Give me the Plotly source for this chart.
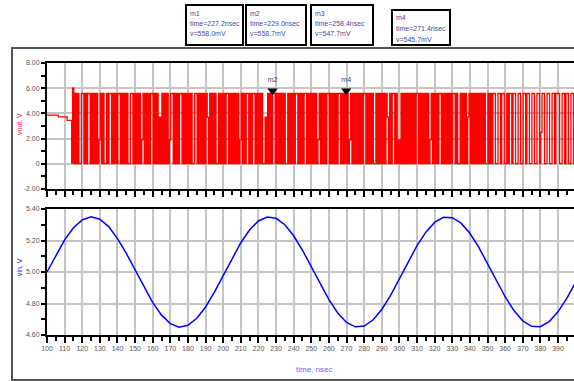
import plotly.graph_objects as go

# ---------------- data ----------------
# top panel (red): slow start, then dense switching waveform
vout_pre_t = [100.0, 106.4, 111.4, 114.0, 114.5]
vout_pre_v = [3.86, 3.72, 3.45, 0.05, 6.00]
vout_step = 10.0 / 14.0          # nsec per code character
vout_codes = [
    "09090099090990", "90909039090090", "99090909909090", "90099090909039",
    "09090990909060", "90909039909090", "99090909090099", "09090909609090",
    "90090909099090", "90909039090990", "90990909090060", "90909909090909",
    "00909090990909", "09909090909039", "09090990909090", "99090909039090",
    "90909099090909", "00909090909609", "09909030909090", "90909099090909",
    "09039090909909", "09090909909009", "09090690909090", "90909009090990",
    "09909900909909", "90099009909900", "99009904990099", "00990999009909",
    "90099009990099",
]
code_levels = {"0": 0.02, "3": 1.9, "4": 2.5, "5": 3.1, "6": 3.7, "9": 5.58}

# bottom panel (blue)
vin_t = list(range(100, 405, 5))
vin_v = [5.000, 5.106, 5.204, 5.281, 5.331, 5.350, 5.335, 5.288, 5.212, 5.118,
         5.011, 4.903, 4.805, 4.726, 4.672, 4.650, 4.662, 4.706, 4.778, 4.872,
         4.978, 5.086, 5.186, 5.268, 5.324, 5.349, 5.341, 5.300, 5.230, 5.138,
         5.033, 4.924, 4.824, 4.740, 4.680, 4.652, 4.657, 4.695, 4.762, 4.852,
         4.956, 5.065, 5.167, 5.253, 5.315, 5.347, 5.345, 5.310, 5.246, 5.158,
         5.055, 4.946, 4.843, 4.755, 4.690, 4.655, 4.653, 4.685, 4.747, 4.833,
         4.935]

marker_names = ["m2", "m4"]
marker_t = [228.0, 269.8]
marker_v = [5.80, 5.80]

readout_names = ["m1", "m2", "m3", "m4"]
readout_times = ["time=227.2nsec", "time=229.0nsec", "time=258.4nsec", "time=271.4nsec"]
readout_values = ["v=558.0mV", "v=558.7mV", "v=547.7mV", "v=545.7mV"]

top_tickvals = [-2, 0, 2, 4, 6, 8]
top_ticktext = ["-2.00", "0", "2.00", "4.00", "6.00", "8.00"]
bot_tickvals = [4.6, 4.8, 5.0, 5.2, 5.4]
bot_ticktext = ["4.60", "4.80", "5.00", "5.20", "5.40"]

x_title = "time, nsec"
top_title = "vout, V"
bot_title = "vin, V"

# ---------------- build series ----------------
red_t = list(vout_pre_t)
red_v = list(vout_pre_v)
codes = "".join(vout_codes)
for i, c in enumerate(codes):
    red_t.append(vout_pre_t[-1] + (i + 1) * vout_step)
    red_v.append(code_levels[c])

# ---------------- layout geometry ----------------
W, H = 574, 381
L, R, T, B = 47, 0, 63, 46
pw, ph = W - L - R, H - T - B


def px(x):
    return (x - L) / pw


def py(y):
    return (H - B - y) / ph


XMAX = 100 + pw / 1.762
FONT = "Liberation Sans, Arial, sans-serif"
TICKCOL = "#555555"

fig = go.Figure()
fig.add_trace(go.Scatter(x=red_t, y=red_v, mode="lines",
                         line=dict(color="#ff0000", width=1.3, shape="hv"),
                         xaxis="x2", yaxis="y", showlegend=False, hoverinfo="skip"))
fig.add_trace(go.Scatter(x=marker_t, y=marker_v, mode="markers+text", text=marker_names,
                         textposition="top center",
                         textfont=dict(size=7, color="#404080", family=FONT),
                         marker=dict(symbol="triangle-down", size=9, color="black"),
                         xaxis="x2", yaxis="y", showlegend=False, cliponaxis=False))
fig.add_trace(go.Scatter(x=vin_t, y=vin_v, mode="lines",
                         line=dict(color="#0000ff", width=1.5),
                         xaxis="x", yaxis="y2", showlegend=False))

xcommon = dict(range=[100, XMAX], tick0=100, dtick=10, ticks="outside", ticklen=6,
               tickwidth=1.5, tickcolor="black", showline=True, linewidth=2,
               linecolor="black", mirror=True, showgrid=True, gridcolor="#c4c4c4",
               gridwidth=1.5, zeroline=False,
               minor=dict(tick0=100, dtick=5, ticks="outside", ticklen=4,
                          tickwidth=1.5, tickcolor="black", showgrid=False),
               tickfont=dict(size=7, color=TICKCOL, family=FONT))
ycommon = dict(ticks="outside", ticklen=4, tickwidth=1.5, tickcolor="black",
               showline=True, linewidth=2, linecolor="black", mirror=False,
               showgrid=True, gridcolor="#c4c4c4", gridwidth=1.5, zeroline=False,
               tickfont=dict(size=7, color=TICKCOL, family=FONT))

fig.update_layout(
    width=W, height=H, margin=dict(l=L, r=R, t=T, b=B, pad=0),
    paper_bgcolor="white", plot_bgcolor="white", showlegend=False,
    xaxis=dict(anchor="y2", showticklabels=True, **xcommon),
    xaxis2=dict(anchor="y", matches="x", showticklabels=False, **xcommon),
    yaxis=dict(domain=[py(189), 1.0], range=[-2, 8], tickmode="array",
               tickvals=top_tickvals, ticktext=top_ticktext,
               minor=dict(dtick=1, ticks="outside", ticklen=4, tickwidth=1.5,
                          tickcolor="black", showgrid=False), **ycommon),
    yaxis2=dict(domain=[0, py(209)], range=[4.6, 5.4], tickmode="array",
                tickvals=bot_tickvals, ticktext=bot_ticktext,
                minor=dict(dtick=0.1, ticks="outside", ticklen=4, tickwidth=1.5,
                           tickcolor="black", showgrid=False), **ycommon),
)

shapes = [dict(type="rect", xref="paper", yref="paper", x0=px(12), x1=px(590),
               y0=py(380), y1=py(48), line=dict(color="#555555", width=2))]
annotations = []
box_x = [(186, 243, 5), (246, 306, 5), (311, 373, 5), (392, 450, 10)]
for (x0, x1, ytop), name, tt, vv in zip(box_x, readout_names, readout_times, readout_values):
    shapes.append(dict(type="rect", xref="paper", yref="paper", x0=px(x0), x1=px(x1),
                       y0=py(45), y1=py(ytop), line=dict(color="black", width=2),
                       fillcolor="white"))
    for k, txt in enumerate([name, tt, vv]):
        annotations.append(dict(xref="paper", yref="paper", x=px(x0 + 2),
                                y=py(ytop + 8 + k * 10.5), text=txt, showarrow=False,
                                xanchor="left", yanchor="middle",
                                font=dict(size=7, color="#4a4a9a", family=FONT)))

annotations.append(dict(xref="paper", yref="paper", x=px(314), y=py(369), text=x_title,
                        showarrow=False, xanchor="center", yanchor="middle",
                        font=dict(size=8, color="#6a6aff", family=FONT)))
annotations.append(dict(xref="paper", yref="paper", x=px(19), y=py(124), text=top_title,
                        textangle=-90, showarrow=False, xanchor="center", yanchor="middle",
                        font=dict(size=7, color="#ff2050", family=FONT)))
annotations.append(dict(xref="paper", yref="paper", x=px(19), y=py(267), text=bot_title,
                        textangle=-90, showarrow=False, xanchor="center", yanchor="middle",
                        font=dict(size=7, color="#2020ff", family=FONT)))
annotations.append(dict(xref="x", yref="paper", x=400, y=py(349), text="400",
                        showarrow=False, xanchor="center", yanchor="middle",
                        font=dict(size=7, color=TICKCOL, family=FONT)))

fig.update_layout(shapes=shapes, annotations=annotations)

fig.write_html("out.html", config={"displayModeBar": False},
               post_script="document.body.style.margin='0px';")
